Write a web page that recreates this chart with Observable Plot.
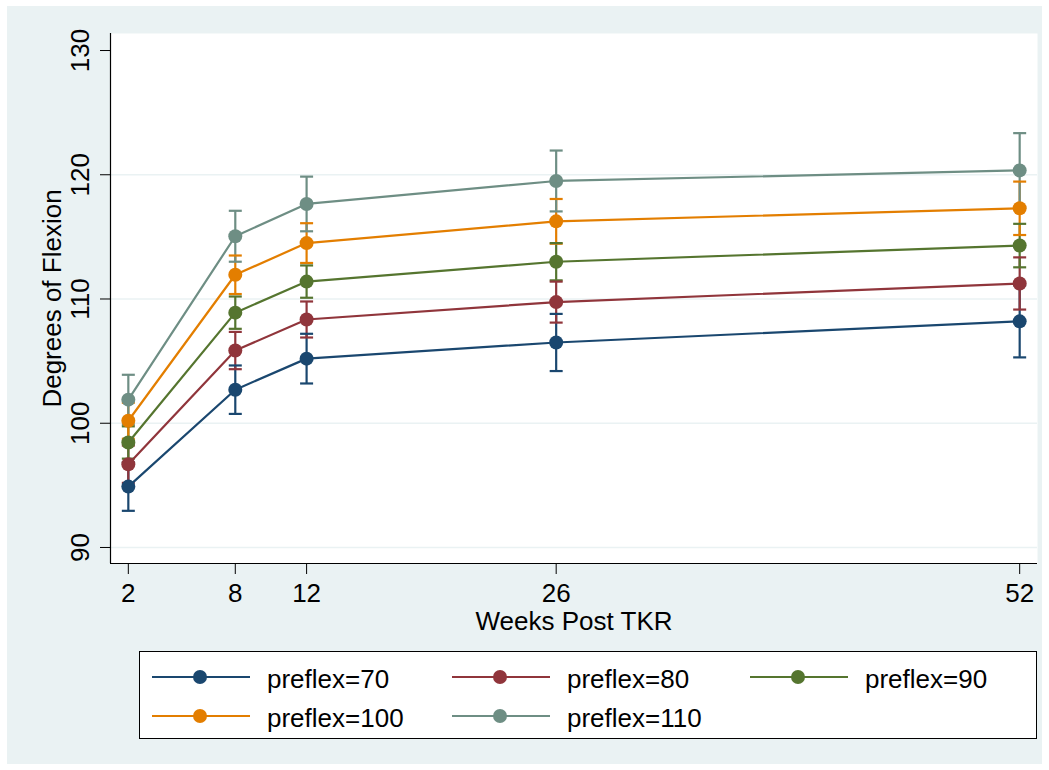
<!DOCTYPE html>
<html>
<head>
<meta charset="utf-8">
<script src="https://cdn.jsdelivr.net/npm/d3@7"></script>
<script src="https://cdn.jsdelivr.net/npm/@observablehq/plot@0.6"></script>
<style>
  body { margin: 0; background: white; }
  #root { position: relative; width: 1049px; height: 770px; background: white; overflow: hidden; font-family: "Liberation Sans", Arial, Helvetica, sans-serif; }
  #bg { position: absolute; left: 7px; top: 6px; width: 1035px; height: 758px; background: #EAF2F3; }
  #chart { position: absolute; left: 0; top: 0; }
  #legend { position: absolute; left: 0; top: 640px; }
</style>
</head>
<body>
<div id="root">
  <div id="bg"></div>
  <div id="chart"></div>
  <svg id="legend" width="1049" height="130"></svg>
</div>
<script>
// ---- data ----
const weeks = [2, 8, 12, 26, 52];
const seriesNames = ["preflex=70", "preflex=80", "preflex=90", "preflex=100", "preflex=110"];
const seriesColors = ["#1A476F", "#90353B", "#55752F", "#E37E00", "#6E8E84"];
const yTicks = [90, 100, 110, 120, 130];
const yGrid = [90, 100, 110, 120];

const mean70  = [94.9, 102.7, 105.2, 106.5, 108.2];
const lo70    = [92.95, 100.75, 103.2, 104.2, 105.3];
const hi70    = [96.85, 104.65, 107.2, 108.8, 111.1];

const mean80  = [96.7, 105.85, 108.35, 109.75, 111.25];
const lo80    = [95.2, 104.35, 106.9, 108.1, 109.15];
const hi80    = [98.2, 107.35, 109.8, 111.4, 113.35];

const mean90  = [98.45, 108.9, 111.4, 113.0, 114.3];
const lo90    = [97.15, 107.6, 110.1, 111.5, 112.55];
const hi90    = [99.75, 110.2, 112.7, 114.5, 116.05];

const mean100 = [100.2, 111.95, 114.5, 116.25, 117.3];
const lo100   = [98.75, 110.4, 112.9, 114.45, 115.15];
const hi100   = [101.65, 113.5, 116.1, 118.05, 119.45];

const mean110 = [101.9, 115.05, 117.65, 119.5, 120.35];
const lo110   = [99.9, 113.0, 115.45, 117.05, 117.35];
const hi110   = [103.9, 117.1, 119.85, 121.95, 123.35];

const means = [mean70, mean80, mean90, mean100, mean110];
const los = [lo70, lo80, lo90, lo100, lo110];
const his = [hi70, hi80, hi90, hi100, hi110];

// build tidy table
const rows = [];
seriesNames.forEach((s, i) => {
  weeks.forEach((w, j) => {
    rows.push({series: s, week: w, mean: means[i][j], lo: los[i][j], hi: his[i][j]});
  });
});

const font = '"Liberation Sans", Arial, Helvetica, sans-serif';
const colorScale = {domain: seriesNames, range: seriesColors};
const capSymbol = { draw(ctx) { ctx.moveTo(-6.5, 0); ctx.lineTo(6.5, 0); } };

const yMin = 88.71, yMax = 131.37;

const chart = Plot.plot({
  width: 1049,
  height: 640,
  marginLeft: 110,
  marginRight: 12,
  marginTop: 33,
  marginBottom: 77,
  style: {background: "transparent", fontFamily: font, fontSize: "26px", color: "black", overflow: "visible"},
  x: {domain: [1, 53]},
  y: {domain: [yMin, yMax]},
  color: colorScale,
  marks: [
    Plot.frame({fill: "white", stroke: "none"}),
    Plot.gridY(yGrid, {stroke: "#EAF2F3", strokeOpacity: 1, strokeWidth: 1.6}),
    Plot.axisX(weeks, {tickSize: 11, tickPadding: 9, tickFormat: d => String(d), label: null, stroke: "black", fill: "black"}),
    Plot.axisY(yTicks, {tickSize: 10, tickFormat: () => "", label: null, stroke: "black"}),
    Plot.text(yTicks, {y: d => d, text: d => String(d), frameAnchor: "left", dx: -30, rotate: -90, textAnchor: "middle", lineAnchor: "middle", fill: "black", fontSize: 26}),
    Plot.text(["Degrees of Flexion"], {frameAnchor: "left", dx: -58, rotate: -90, textAnchor: "middle", lineAnchor: "middle", fill: "black", fontSize: 26}),
    Plot.text(["Weeks Post TKR"], {frameAnchor: "bottom", dy: 48, textAnchor: "middle", lineAnchor: "top", fill: "black", fontSize: 26}),
    Plot.ruleX([1], {stroke: "black", strokeWidth: 1.2}),
    Plot.ruleY([yMin], {stroke: "black", strokeWidth: 1.2}),
    // error bars
    Plot.ruleX(rows, {x: "week", y1: "lo", y2: "hi", stroke: "series", strokeWidth: 2.2}),
    Plot.dot(rows, {x: "week", y: "lo", symbol: capSymbol, stroke: "series", strokeWidth: 2.2, r: 7}),
    Plot.dot(rows, {x: "week", y: "hi", symbol: capSymbol, stroke: "series", strokeWidth: 2.2, r: 7}),
    // connected lines
    Plot.line(rows, {x: "week", y: "mean", z: "series", stroke: "series", strokeWidth: 2.2}),
    Plot.dot(rows, {x: "week", y: "mean", fill: "series", r: 7, stroke: "none"})
  ]
});
document.getElementById("chart").appendChild(chart);

// ---- legend ----
const leg = d3.select("#legend");
leg.append("rect")
  .attr("x", 139.5).attr("y", 11.5).attr("width", 897).attr("height", 87)
  .attr("fill", "white").attr("stroke", "black").attr("stroke-width", 1);
const colX = [152, 452, 750];
const rowY = [37, 76];
seriesNames.forEach((s, i) => {
  const cx = colX[i % 3], cy = rowY[Math.floor(i / 3)];
  const g = leg.append("g");
  g.append("line").attr("x1", cx).attr("x2", cx + 98).attr("y1", cy).attr("y2", cy)
    .attr("stroke", seriesColors[i]).attr("stroke-width", 2.2);
  g.append("circle").attr("cx", cx + 48).attr("cy", cy).attr("r", 7).attr("fill", seriesColors[i]);
  g.append("text").attr("x", cx + 115).attr("y", cy + 11)
    .attr("font-family", font).attr("font-size", 26).attr("fill", "black").text(s);
});
</script>
</body>
</html>
